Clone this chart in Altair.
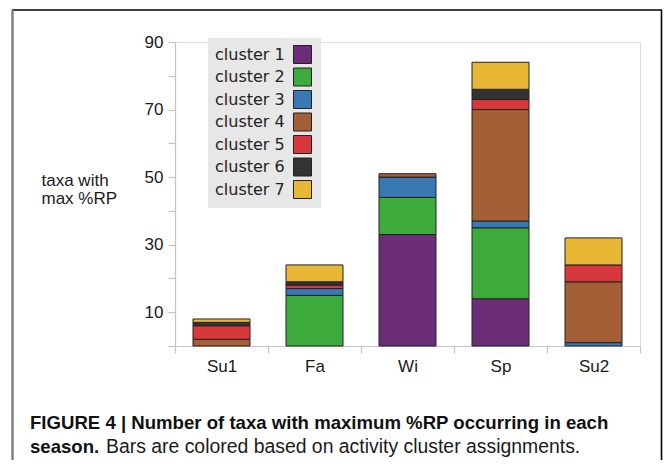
import altair as alt
import pandas as pd

seasons = ["Su1", "Fa", "Wi", "Sp", "Su2"]
clusters = ["cluster 1", "cluster 2", "cluster 3", "cluster 4", "cluster 5", "cluster 6", "cluster 7"]
colors = ["#6b2d78", "#3dab3c", "#3778b5", "#a45f37", "#d8383c", "#333333", "#e8b736"]

# number of taxa per cluster, one value per season (Su1, Fa, Wi, Sp, Su2)
c1 = [0, 0, 33, 14, 0]
c2 = [0, 15, 11, 21, 0]
c3 = [0, 2, 6, 2, 1]
c4 = [2, 0, 1, 33, 18]
c5 = [4, 1, 0, 3, 5]
c6 = [1, 1, 0, 3, 0]
c7 = [1, 5, 0, 8, 8]

y_ticks = [0, 10, 20, 30, 40, 50, 60, 70, 80, 90]
y_title = ["taxa with", "max %RP"]
cap_line1 = "FIGURE 4 | Number of taxa with maximum %RP occurring in each"
cap_bold2 = "season."
cap_reg2 = "Bars are colored based on activity cluster assignments."

rows = []
for k, series in enumerate([c1, c2, c3, c4, c5, c6, c7]):
    for s, v in zip(seasons, series):
        if v > 0:
            rows.append({"season": s, "cluster": clusters[k], "idx": k, "count": v})
df = pd.DataFrame(rows)

FONT = "Liberation Sans"

bars = alt.Chart(df).mark_bar(width=57, stroke="#222222", strokeWidth=1, opacity=1).encode(
    x=alt.X("season:N", sort=seasons,
            scale=alt.Scale(paddingInner=0, paddingOuter=0),
            axis=alt.Axis(title=None, tickBand="extent", domainColor="#c4c4c4", tickColor="#c4c4c4",
                          tickSize=7, labelPadding=5, labelFont=FONT, labelFontSize=17,
                          labelColor="#1a1a1a", labelAngle=0, domainWidth=1.2, tickWidth=1.2)),
    y=alt.Y("count:Q", stack="zero",
            scale=alt.Scale(domain=[0, 90], nice=False),
            axis=alt.Axis(values=y_ticks, grid=False, title=y_title, titleAngle=0,
                          titleAlign="left", titleBaseline="alphabetic", titleX=-134, titleY=143,
                          titleLineHeight=18, titleFont=FONT, titleFontSize=17,
                          titleFontWeight="normal", titleColor="#1a1a1a",
                          labelExpr="datum.value % 20 == 10 ? datum.label : ''",
                          labelFont=FONT, labelFontSize=17, labelColor="#1a1a1a",
                          tickSize=7, labelPadding=5, domainColor="#c4c4c4", tickColor="#c4c4c4",
                          domainWidth=1.2, tickWidth=1.2)),
    color=alt.Color("cluster:N", scale=alt.Scale(domain=clusters, range=colors),
                    legend=alt.Legend(orient="none", legendX=33, legendY=-4, title=None,
                                      fillColor="#e7e7e7", padding=7, symbolType="square",
                                      symbolSize=324, symbolStrokeColor="#222222",
                                      symbolStrokeWidth=1, symbolOpacity=1, symbolOffset=78,
                                      labelOffset={"expr": "-97"}, labelFont="DejaVu Sans",
                                      labelFontSize=16, labelColor="#222222",
                                      rowPadding={"expr": "-0.5"}, labelLimit=0)),
    order=alt.Order("idx:Q", sort="ascending"),
)

one = alt.Data(values=[{"a": 1}])

frame_top = alt.Chart(one).mark_rule(color="#000000", strokeWidth=1.6).encode(
    x=alt.value(-163), x2=alt.value(487), y=alt.value(-32))
frame_left = alt.Chart(one).mark_rule(color="#808080", strokeWidth=2.5).encode(
    x=alt.value(-162.5), y=alt.value(-32), y2=alt.value(420))
frame_right = alt.Chart(one).mark_rule(color="#000000", strokeWidth=1.6).encode(
    x=alt.value(486.5), y=alt.value(-32), y2=alt.value(420))

cap1 = alt.Chart(one).mark_text(align="left", baseline="alphabetic", font=FONT, fontSize=18.6,
                                fontWeight="bold", color="#111111").encode(
    x=alt.value(-145), y=alt.value(387), text=alt.value(cap_line1))
cap2 = alt.Chart(one).mark_text(align="left", baseline="alphabetic", font=FONT, fontSize=18.6,
                                fontWeight="bold", color="#111111").encode(
    x=alt.value(-145), y=alt.value(411), text=alt.value(cap_bold2))
cap3 = alt.Chart(one).mark_text(align="left", baseline="alphabetic", font=FONT, fontSize=19.4,
                                fontWeight="normal", color="#1a1a1a").encode(
    x=alt.value(-69), y=alt.value(411), text=alt.value(cap_reg2))

chart = alt.layer(bars, frame_top, frame_left, frame_right, cap1, cap2, cap3).properties(
    width=465, height=304,
    padding={"left": 167, "top": 34, "right": 23, "bottom": 114},
    autosize=alt.AutoSizeParams(type="none"),
).configure_view(stroke=None).configure(background="white")

chart.save("out.html", embed_options={"renderer": "svg", "actions": False})
